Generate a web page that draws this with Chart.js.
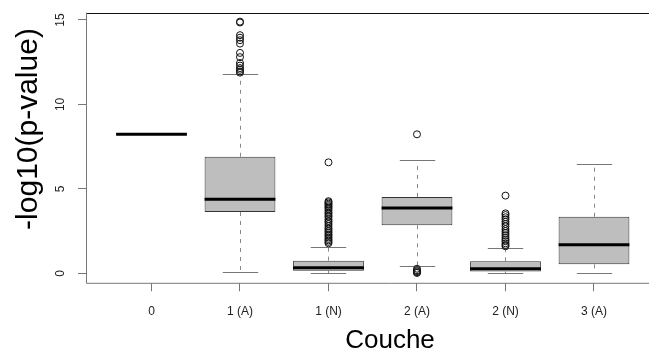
<!DOCTYPE html>
<html>
<head>
<meta charset="utf-8">
<script src="https://cdn.jsdelivr.net/npm/chart.js@4/dist/chart.umd.min.js"></script>
<style>
  html, body { margin: 0; padding: 0; background: #fff; overflow: hidden; }
  #wrap { width: 649px; height: 351px; overflow: hidden; }
</style>
</head>
<body>
<div id="wrap"><canvas id="boxChart" width="700" height="351"></canvas></div>
<script>
// Box plot values
const categories = ['0', '1 (A)', '1 (N)', '2 (A)', '2 (N)', '3 (A)'];
const whiskerLow  = [8.23, 0.10, 0.00, 0.41, 0.00, 0.00];
const q1          = [8.23, 3.63, 0.15, 2.84, 0.10, 0.53];
const medians     = [8.23, 4.38, 0.33, 3.87, 0.27, 1.69];
const q3          = [8.23, 6.90, 0.75, 4.52, 0.71, 3.35];
const whiskerHigh = [8.23, 11.80, 1.58, 6.69, 1.48, 6.49];

// Outliers per category
const outliers0 = [];
const outliers1A = [14.9, 14.85, 14.1, 13.95, 13.8, 13.6, 13.05, 12.8, 12.45, 12.3, 12.15, 12.05, 11.95, 11.88];
const outliers1N = [6.57, 4.27, 4.2, 4.12, 4.05, 3.97, 3.9, 3.82, 3.71, 3.6, 3.52, 3.41, 3.33, 3.2, 3.1,
                    3.02, 2.91, 2.8, 2.68, 2.6, 2.5, 2.41, 2.3, 2.22, 2.12, 2.03, 1.95, 1.86, 1.78];
const outliers2A = [8.23, 0.27, 0.18, 0.12, 0.06, 0.02];
const outliers2N = [4.6, 3.55, 3.45, 3.32, 3.2, 3.05, 2.92, 2.78, 2.62, 2.5, 2.38, 2.25, 2.12, 2.0, 1.9, 1.78, 1.68, 1.6];
const outliers3A = [];

const yTicks = [0, 5, 10, 15];
const xTitle = 'Couche';
const yTitle = '-log10(p-value)';

const allOutliers = [outliers0, outliers1A, outliers1N, outliers2A, outliers2N, outliers3A];
const outlierPoints = [];
allOutliers.forEach((list, i) => list.forEach(v => outlierPoints.push({ x: i, y: v })));

const FONT = '"Liberation Sans", Arial, Helvetica, sans-serif';

// whiskers, caps, medians, frame and axis titles
const boxExtras = {
    id: 'boxExtras',
    beforeDatasetsDraw(chart) {
        const { ctx, scales: { x, y } } = chart;
        const half = (x.getPixelForValue(1) - x.getPixelForValue(0)) * 0.8 / 2;
        ctx.save();
        categories.forEach((c, i) => {
            const px = Math.round(x.getPixelForValue(i)) + 0.5;
            // dashed whiskers
            ctx.strokeStyle = '#888';
            ctx.lineWidth = 1;
            ctx.setLineDash([4, 5]);
            ctx.beginPath();
            ctx.moveTo(px, y.getPixelForValue(q3[i]));
            ctx.lineTo(px, y.getPixelForValue(whiskerHigh[i]));
            ctx.moveTo(px, y.getPixelForValue(q1[i]));
            ctx.lineTo(px, y.getPixelForValue(whiskerLow[i]));
            ctx.stroke();
            // caps
            ctx.setLineDash([]);
            ctx.strokeStyle = '#777';
            ctx.beginPath();
            [whiskerHigh[i], whiskerLow[i]].forEach(v => {
                const py = Math.round(y.getPixelForValue(v)) + 0.5;
                ctx.moveTo(px - half / 2, py);
                ctx.lineTo(px + half / 2, py);
            });
            ctx.stroke();
        });
        ctx.restore();
    },
    afterDatasetsDraw(chart) {
        const { ctx, chartArea: a, scales: { x, y } } = chart;
        const half = (x.getPixelForValue(1) - x.getPixelForValue(0)) * 0.8 / 2;
        ctx.save();
        // medians
        ctx.strokeStyle = '#000';
        ctx.lineWidth = 3;
        ctx.beginPath();
        medians.forEach((m, i) => {
            const px = x.getPixelForValue(i);
            const py = y.getPixelForValue(m);
            ctx.moveTo(px - half, py);
            ctx.lineTo(px + half, py);
        });
        ctx.stroke();
        // frame
        ctx.lineWidth = 1;
        ctx.strokeStyle = '#111';
        ctx.beginPath();
        ctx.moveTo(a.left, Math.round(a.top) + 0.5);
        ctx.lineTo(a.right, Math.round(a.top) + 0.5);
        ctx.stroke();
        ctx.strokeStyle = '#777';
        ctx.beginPath();
        ctx.moveTo(Math.round(a.left) + 0.5, a.top);
        ctx.lineTo(Math.round(a.left) + 0.5, a.bottom);
        ctx.lineTo(a.right, a.bottom);
        ctx.stroke();
        // axis titles
        ctx.fillStyle = '#000';
        ctx.font = '26px ' + FONT;
        ctx.textAlign = 'center';
        ctx.textBaseline = 'alphabetic';
        ctx.fillText(xTitle, (a.left + a.right) / 2, 348);
        ctx.save();
        ctx.translate(37, 129);
        ctx.rotate(-Math.PI / 2);
        ctx.font = '30px ' + FONT;
        ctx.fillText(yTitle, 0, 0);
        ctx.restore();
        ctx.restore();
    }
};

new Chart(document.getElementById('boxChart'), {
    type: 'bar',
    data: {
        datasets: [
            {
                type: 'scatter',
                data: outlierPoints,
                pointStyle: 'circle',
                pointRadius: 3.5,
                pointBackgroundColor: 'rgba(0,0,0,0)',
                borderColor: '#111',
                pointBorderWidth: 1,
                order: 0
            },
            {
                type: 'bar',
                data: categories.map((c, i) => ({ x: i, y: [q1[i], q3[i]] })),
                backgroundColor: '#bebebe',
                borderColor: '#333',
                borderWidth: 1,
                borderSkipped: false,
                categoryPercentage: 1,
                barPercentage: 0.8,
                order: 1
            }
        ]
    },
    options: {
        responsive: false,
        animation: false,
        events: [],
        layout: { padding: { left: 0, top: 12.7, right: 6, bottom: 0 } },
        plugins: { legend: { display: false }, tooltip: { enabled: false } },
        scales: {
            x: {
                type: 'linear',
                offset: false,
                min: -0.74,
                max: 6.13,
                afterBuildTicks: s => { s.ticks = categories.map((c, i) => ({ value: i })); },
                afterFit: s => {
                    s.height = 351 - 283.3;
                    s.paddingLeft = 0;
                    s.paddingRight = 0;
                },
                grid: { drawOnChartArea: false, drawTicks: true, tickLength: 8, tickColor: '#777', offset: false },
                border: { display: false },
                ticks: {
                    padding: 13,
                    color: '#222',
                    font: { family: FONT, size: 12 },
                    maxRotation: 0,
                    autoSkip: false,
                    callback: v => categories[v]
                }
            },
            y: {
                type: 'linear',
                min: -0.592,
                max: 15.43,
                afterBuildTicks: s => { s.ticks = yTicks.map(v => ({ value: v })); },
                afterFit: s => {
                    s.width = 86;
                    s.paddingTop = 0;
                    s.paddingBottom = 0;
                },
                grid: { drawOnChartArea: false, drawTicks: true, tickLength: 8, tickColor: '#777' },
                border: { display: false },
                ticks: {
                    padding: 11,
                    color: '#222',
                    crossAlign: 'center',
                    minRotation: 90,
                    maxRotation: 90,
                    font: { family: FONT, size: 12 }
                }
            }
        }
    },
    plugins: [boxExtras]
});
</script>
</body>
</html>
